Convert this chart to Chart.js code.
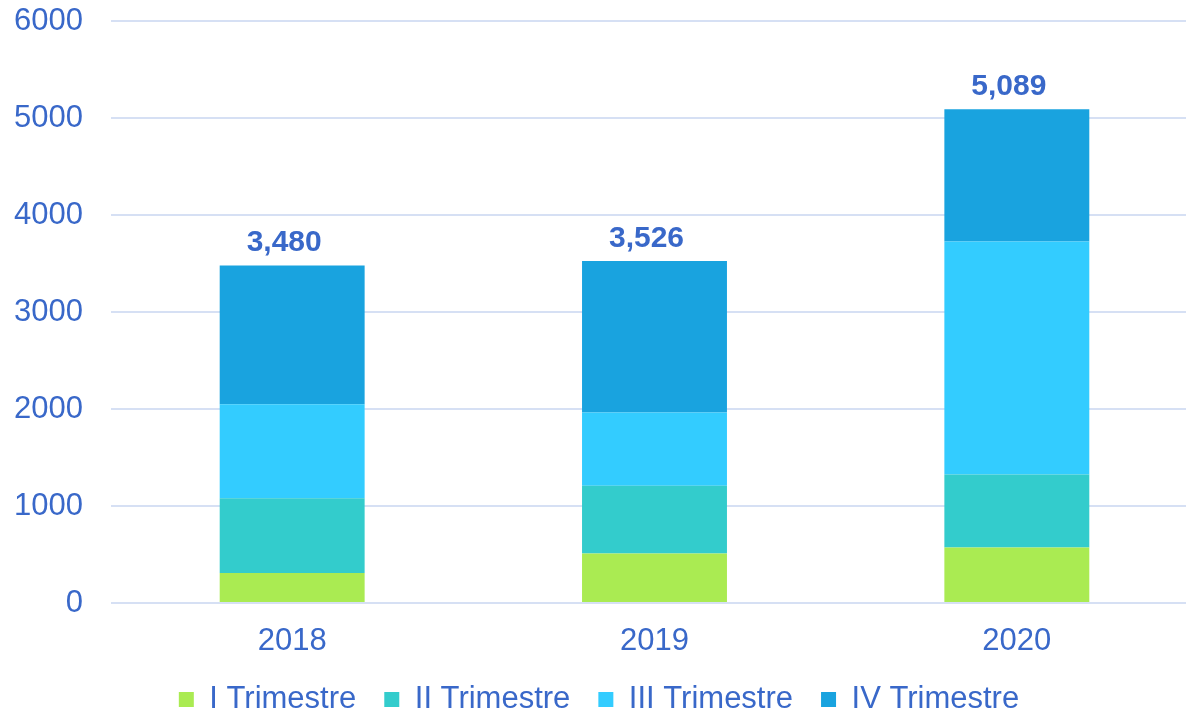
<!DOCTYPE html>
<html>
<head>
<meta charset="utf-8">
<script src="https://cdn.jsdelivr.net/npm/chart.js@4.4.0/dist/chart.umd.min.js"></script>
<style>
    body { margin: 0; background: #fff; overflow: hidden; }
    #wrap { width: 1186px; height: 715px; overflow: hidden; }
</style>
</head>
<body>
<div id="wrap"><canvas id="bars" width="1198" height="725"></canvas></div>
<script>
var years = ['2018', '2019', '2020'];
var trim1 = [310, 510, 573];
var trim2 = [770, 700, 751];
var trim3 = [970, 755, 2403];
var trim4 = [1430, 1561, 1362];
var yTicks = [0, 1000, 2000, 3000, 4000, 5000, 6000];

var textColor = '#3968c9';
var fontName = "'Liberation Sans', Arial, sans-serif";

// totals on top of each stack (sit a little left of the bar centre)
var totalsPlugin = {
    id: 'totals',
    afterDatasetsDraw: function(chart) {
        var ctx = chart.ctx;
        var last = chart.getDatasetMeta(chart.data.datasets.length - 1);
        ctx.save();
        ctx.font = 'bold 30px ' + fontName;
        ctx.fillStyle = textColor;
        ctx.textAlign = 'center';
        ctx.textBaseline = 'alphabetic';
        last.data.forEach(function(bar, i) {
            var total = trim1[i] + trim2[i] + trim3[i] + trim4[i];
            ctx.fillText(total.toLocaleString('en-US'), bar.x - 8, bar.y - 14);
        });
        ctx.restore();
    }
};

var ctx = document.getElementById('bars').getContext('2d');
var chart = new Chart(ctx, {
    type: 'bar',
    data: {
        labels: years,
        datasets: [
            { label: 'I Trimestre', data: trim1, backgroundColor: '#aaeb52' },
            { label: 'II Trimestre', data: trim2, backgroundColor: '#33cccc' },
            { label: 'III Trimestre', data: trim3, backgroundColor: '#33ccff' },
            { label: 'IV Trimestre', data: trim4, backgroundColor: '#19a3df' }
        ]
    },
    options: {
        responsive: false,
        animation: false,
        layout: { padding: 0 },
        datasets: {
            bar: { barPercentage: 0.4, categoryPercentage: 1, borderWidth: 0 }
        },
        scales: {
            x: {
                stacked: true,
                afterFit: function(scale) { scale.height = 53; },
                grid: { display: false },
                border: { display: false },
                ticks: {
                    color: textColor,
                    font: { family: fontName, size: 31, lineHeight: 1 },
                    padding: 15
                }
            },
            y: {
                stacked: true,
                min: 0,
                max: 6000,
                afterFit: function(scale) {
                    // fixed axis width, and no extra room above the 6000 line
                    scale.width = 111;
                    scale.paddingTop = 21;
                    scale.paddingBottom = 0;
                },
                afterBuildTicks: function(scale) {
                    scale.ticks = yTicks.map(function(v) { return { value: v }; });
                },
                grid: { color: '#d6e0f4', lineWidth: 2, drawTicks: false },
                border: { display: false },
                ticks: {
                    color: textColor,
                    font: { family: fontName, size: 31 },
                    padding: 28,
                    callback: function(v) { return String(v); }
                }
            }
        },
        plugins: {
            tooltip: { enabled: false },
            legend: {
                position: 'bottom',
                labels: {
                    color: textColor,
                    font: { family: fontName, size: 31 },
                    boxWidth: 15,
                    boxHeight: 15,
                    padding: 28
                }
            }
        }
    },
    plugins: [totalsPlugin]
});
</script>
</body>
</html>
